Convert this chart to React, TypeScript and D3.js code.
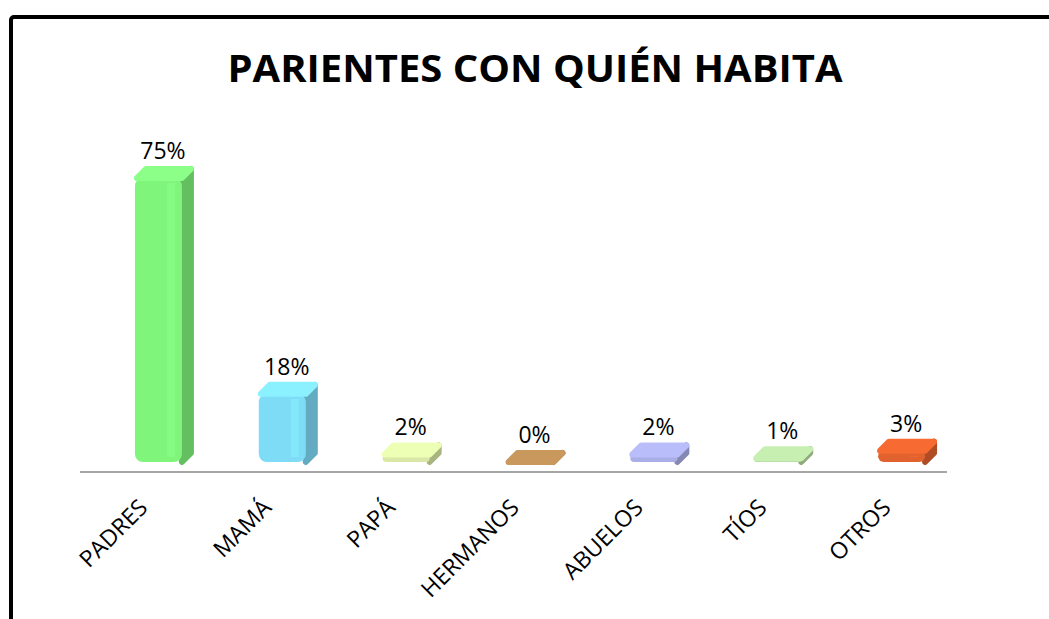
import React, { useEffect, useRef } from "react";
import * as d3 from "d3";

// chart data
const categories = ["PADRES", "MAMÁ", "PAPÁ", "HERMANOS", "ABUELOS", "TÍOS", "OTROS"];
const values = [75, 18, 2, 0, 2, 1, 3];
const valueLabels = ["75%", "18%", "2%", "0%", "2%", "1%", "3%"];
const frontColors = ["#80f57c", "#7fdcf7", "#d9e8a6", "#c9985c", "#a9aee6", "#b6dba2", "#e2622f"];

const TITLE = "PARIENTES CON QUIÉN HABITA";

const W = 1049,
  H = 619;
const FONT = "'Open Sans', 'Liberation Sans', sans-serif";

// plot geometry
const X0 = 80,
  X1 = 947,
  SHIFT = 20, // bars sit a little right of the floor line
  BASE = 462, // front face bottom
  AXIS_Y = 472,
  DEPTH = 9;

export default function App() {
  const ref = useRef<SVGSVGElement>(null);

  useEffect(() => {
    const svg = d3.select(ref.current);
    svg.selectAll("*").remove();

    // frame (top + left edge visible)
    svg
      .append("rect")
      .attr("x", 11)
      .attr("y", 17)
      .attr("width", W + 40)
      .attr("height", H + 40)
      .attr("rx", 3)
      .attr("fill", "#fff")
      .attr("stroke", "#000")
      .attr("stroke-width", 4);

    svg
      .append("text")
      .attr("x", 535)
      .attr("y", 82)
      .attr("text-anchor", "middle")
      .attr("font-family", FONT)
      .attr("font-weight", "bold")
      .attr("font-size", 38)
      .attr("textLength", 615)
      .attr("lengthAdjust", "spacingAndGlyphs")
      .text(TITLE);

    const x = d3.scaleBand<string>().domain(categories).range([X0 + SHIFT, X1 + SHIFT]);
    const y = d3.scaleLinear().domain([0, 75]).range([BASE, 178]);

    // floor line
    svg
      .append("line")
      .attr("x1", X0)
      .attr("x2", X1)
      .attr("y1", AXIS_Y)
      .attr("y2", AXIS_Y)
      .attr("stroke", "#a6a6a6")
      .attr("stroke-width", 2);

    // x axis labels
    const ax = svg
      .append("g")
      .attr("transform", `translate(0, ${AXIS_Y})`)
      .call(d3.axisBottom(x).tickSize(0).tickSizeOuter(0));
    ax.select(".domain").remove();
    ax.selectAll(".tick text")
      .attr("font-family", FONT)
      .attr("font-size", 23)
      .attr("fill", "#000")
      .attr("text-anchor", "end")
      .attr("x", 0)
      .attr("y", 0)
      .attr("dy", 0)
      .attr("transform", "translate(-13, 37) rotate(-45)");

    const bars = svg
      .selectAll(".bar")
      .data(categories)
      .enter()
      .append("g")
      .attr("class", "bar");

    bars.each(function (cat, i) {
      const g = d3.select(this);
      const c = (x(cat) as number) + x.bandwidth() / 2;
      const col = d3.color(frontColors[i]) as d3.RGBColor;
      const dark = col.darker(0.7).formatHex();
      const light = col.brighter(0.25).formatHex();
      const left = c - 27,
        right = c + 20;
      const top = y(values[i]);
      const h = BASE - top;

      // side face
      g.append("path")
        .attr(
          "d",
          `M${right},${top} L${right + DEPTH},${top - DEPTH} L${right + DEPTH},${BASE - DEPTH} L${right},${BASE} Z`
        )
        .attr("fill", dark)
        .attr("stroke", dark)
        .attr("stroke-width", 6)
        .attr("stroke-linejoin", "round");

      // front face
      if (h > 1) {
        g.append("rect")
          .attr("x", left)
          .attr("y", top)
          .attr("width", right - left)
          .attr("height", h)
          .attr("rx", Math.min(8, h / 2))
          .attr("fill", frontColors[i]);
        g.append("rect")
          .attr("x", right - 15)
          .attr("y", top + 5)
          .attr("width", 8)
          .attr("height", Math.max(0, h - 10))
          .attr("fill", light)
          .attr("opacity", 0.5);
      }

      // top face
      g.append("path")
        .attr(
          "d",
          `M${left + 2},${top} L${left + DEPTH + 2},${top - DEPTH} L${right + DEPTH},${top - DEPTH} L${right},${top} Z`
        )
        .attr("fill", h > 1 ? light : frontColors[i])
        .attr("stroke", h > 1 ? light : frontColors[i])
        .attr("stroke-width", 6)
        .attr("stroke-linejoin", "round");

      // value label
      g.append("text")
        .attr("x", c + 1)
        .attr("y", top - DEPTH - 10)
        .attr("text-anchor", "middle")
        .attr("font-family", FONT)
        .attr("font-size", 23)
        .attr("fill", "#000")
        .text(valueLabels[i]);
    });
  }, []);

  return (
    <svg
      ref={ref}
      width={W}
      height={H}
      style={{ position: "absolute", left: 0, top: 0, background: "#fff" }}
    />
  );
}
